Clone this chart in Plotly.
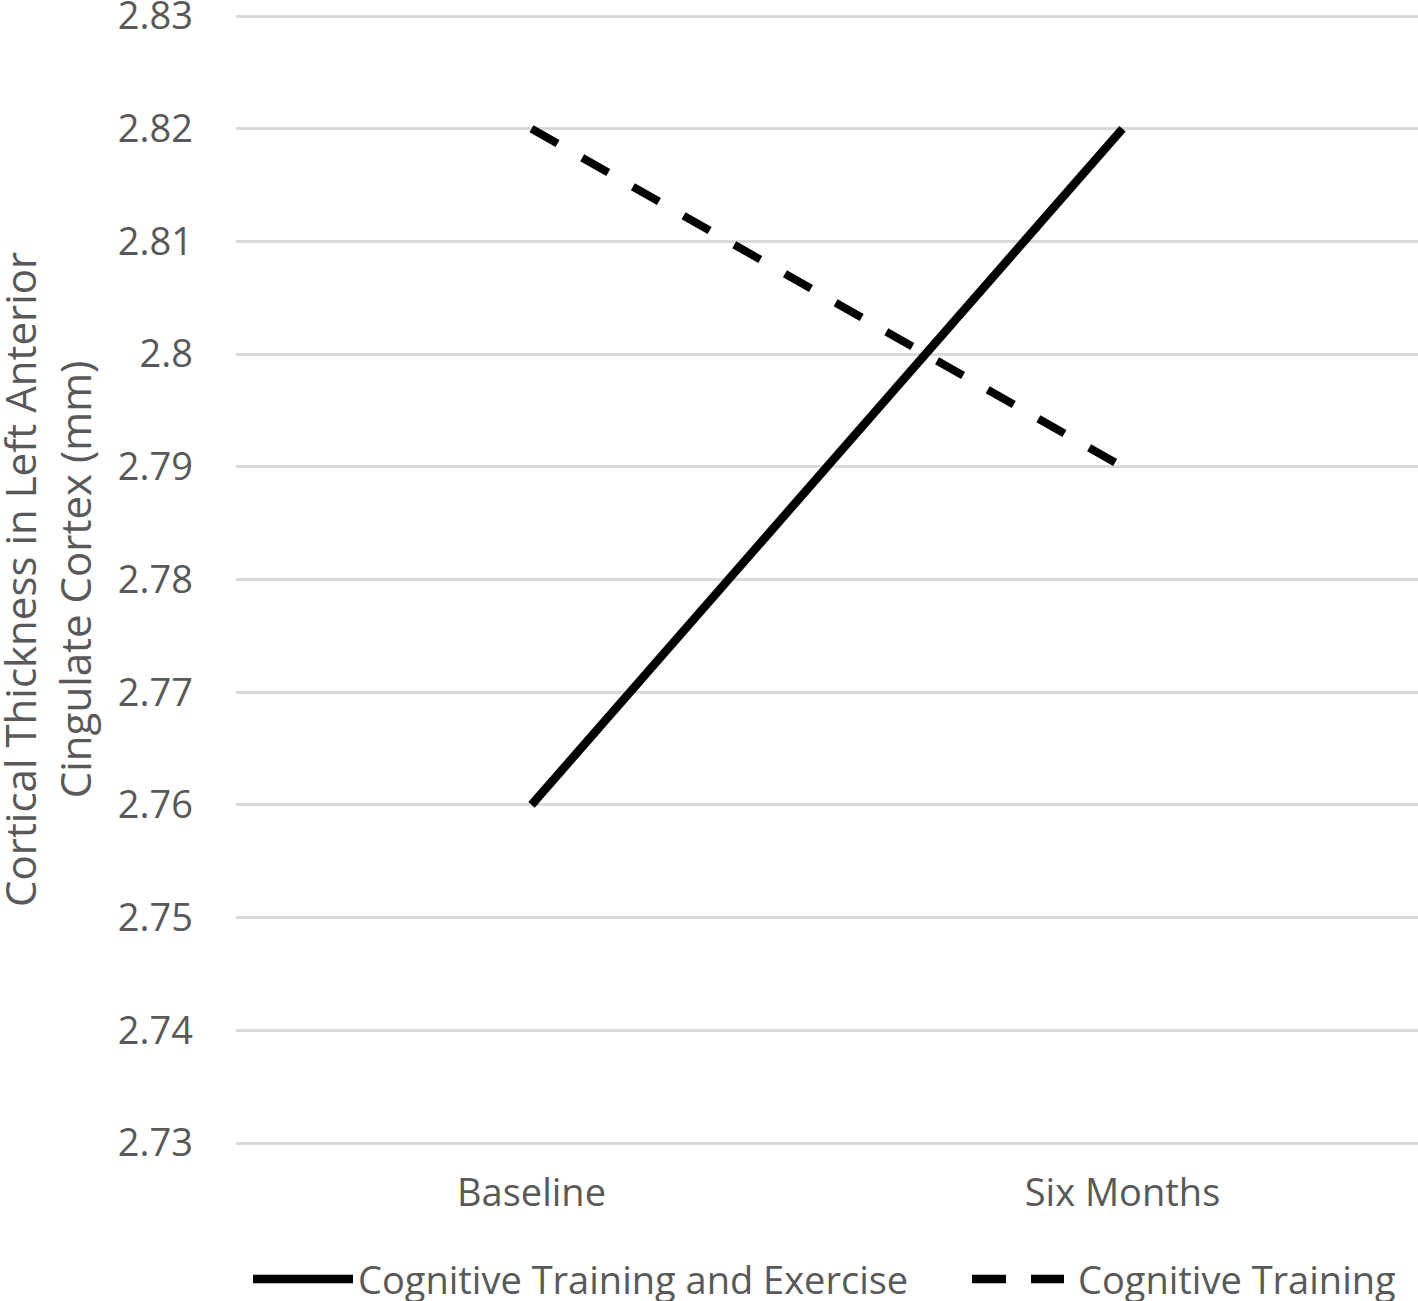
import plotly.graph_objects as go

categories = ["Baseline", "Six Months"]
cte_values = [2.76, 2.82]   # Cognitive Training and Exercise
ct_values = [2.82, 2.79]    # Cognitive Training
series_names = ["Cognitive Training and Exercise", "Cognitive Training"]
y_ticks = [2.73, 2.74, 2.75, 2.76, 2.77, 2.78, 2.79, 2.80, 2.81, 2.82, 2.83]
y_tick_labels = ["2.73", "2.74", "2.75", "2.76", "2.77", "2.78", "2.79", "2.8", "2.81", "2.82", "2.83"]

FONT = "Open Sans"
GREY = "#595959"

fig = go.Figure()
fig.add_trace(go.Scatter(x=categories, y=cte_values, mode="lines", name=series_names[0],
                         line=dict(color="black", width=8.5), showlegend=False))
fig.add_trace(go.Scatter(x=categories, y=ct_values, mode="lines", name=series_names[1],
                         line=dict(color="black", width=8, dash="30px,28.4px"), showlegend=False))

OFF = 0   # body margin removed by post_script below
PAD = 6   # extra pixels of plot area beyond the outer gridlines
W, H = 1418 - OFF, 1301 - OFF
L, R, T, B = 236 - OFF, 0, 16 - OFF - PAD, 1301 - 1143 - PAD
pw, ph = W - L - R, H - T - B
ext = PAD * 0.1 / (1127)

def px_x(p):
    return (p - OFF - L) / pw

def px_y(p):
    return (H - B - (p - OFF)) / ph

fig.update_layout(
    width=W, height=H,
    margin=dict(l=L, r=R, t=T, b=B, autoexpand=False),
    plot_bgcolor="white", paper_bgcolor="white",
    font=dict(family=FONT, color=GREY, size=37),
    xaxis=dict(type="category", range=[-0.5, 1.5], showgrid=False, showline=False,
               zeroline=False, ticks="", ticklabelstandoff=24 - PAD, automargin=False,
               tickfont=dict(family=FONT, size=38, color=GREY)),
    yaxis=dict(range=[2.73 - ext, 2.83 + ext], tickvals=y_ticks, ticktext=y_tick_labels,
               showgrid=True, gridcolor="#d9d9d9", gridwidth=2.5, zeroline=False,
               showline=False, ticks="", ticklabelstandoff=42, ticklabeloverflow="allow",
               automargin=False,
               tickfont=dict(family=FONT, size=38, color=GREY)),
    showlegend=False,
)

fig.add_annotation(text="Cortical Thickness in Left Anterior<br>Cingulate Cortex (mm)",
                   xref="paper", yref="paper", x=0, y=px_y(580), xshift=47 - 236,
                   xanchor="center", yanchor="middle", textangle=-90, showarrow=False,
                   font=dict(family=FONT, size=42, color=GREY))

# manual legend
ly = px_y(1279)
fig.add_shape(type="line", xref="paper", yref="paper", x0=px_x(253), x1=px_x(353), y0=ly, y1=ly,
              line=dict(color="black", width=8.5))
fig.add_annotation(text=series_names[0], xref="paper", yref="paper", x=px_x(356), y=ly,
                   xanchor="left", yanchor="middle", showarrow=False,
                   font=dict(family=FONT, size=38, color=GREY))
fig.add_shape(type="line", xref="paper", yref="paper", x0=px_x(972), x1=px_x(1064), y0=ly, y1=ly,
              line=dict(color="black", width=8.5, dash="34px,25px"))
fig.add_annotation(text=series_names[1], xref="paper", yref="paper", x=px_x(1076), y=ly,
                   xanchor="left", yanchor="middle", showarrow=False,
                   font=dict(family=FONT, size=38, color=GREY))

fig.write_html("out.html", config={"displayModeBar": False},
               post_script="document.body.style.margin='0px';document.body.style.overflow='hidden';")
